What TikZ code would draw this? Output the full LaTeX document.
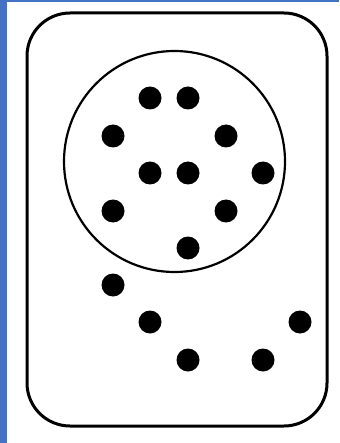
\documentclass[tikz,border=0pt]{standalone}
\definecolor{edgeblue}{RGB}{68,114,196}
\tikzset{dot/.style={circle,fill=black,inner sep=0pt,minimum size=23pt}}
\begin{document}
\begin{tikzpicture}[x=1pt,y=-1pt]
\useasboundingbox (0,0) rectangle (339,443);
\fill[white] (0,0) rectangle (339,443);
\fill[edgeblue] (0,0) rectangle (7,443);
\fill[edgeblue] (0,0) rectangle (339,2);
\draw[line width=3pt,rounded corners=43pt] (27,13) rectangle (327,426);
\draw[line width=2.2pt] (174.5,161.5) circle[radius=110.5];
\foreach \n/\x/\y in {1/150/98,2/188/98,3/113/136,4/226/136,5/150/173,6/188/173,7/263/173,8/113/211,9/226/211,10/188/248,11/113/285,12/150/322,13/300/322,14/188/360,15/263/360}
  \node[dot] (d\n) at (\x,\y) {};
\end{tikzpicture}
\end{document}
